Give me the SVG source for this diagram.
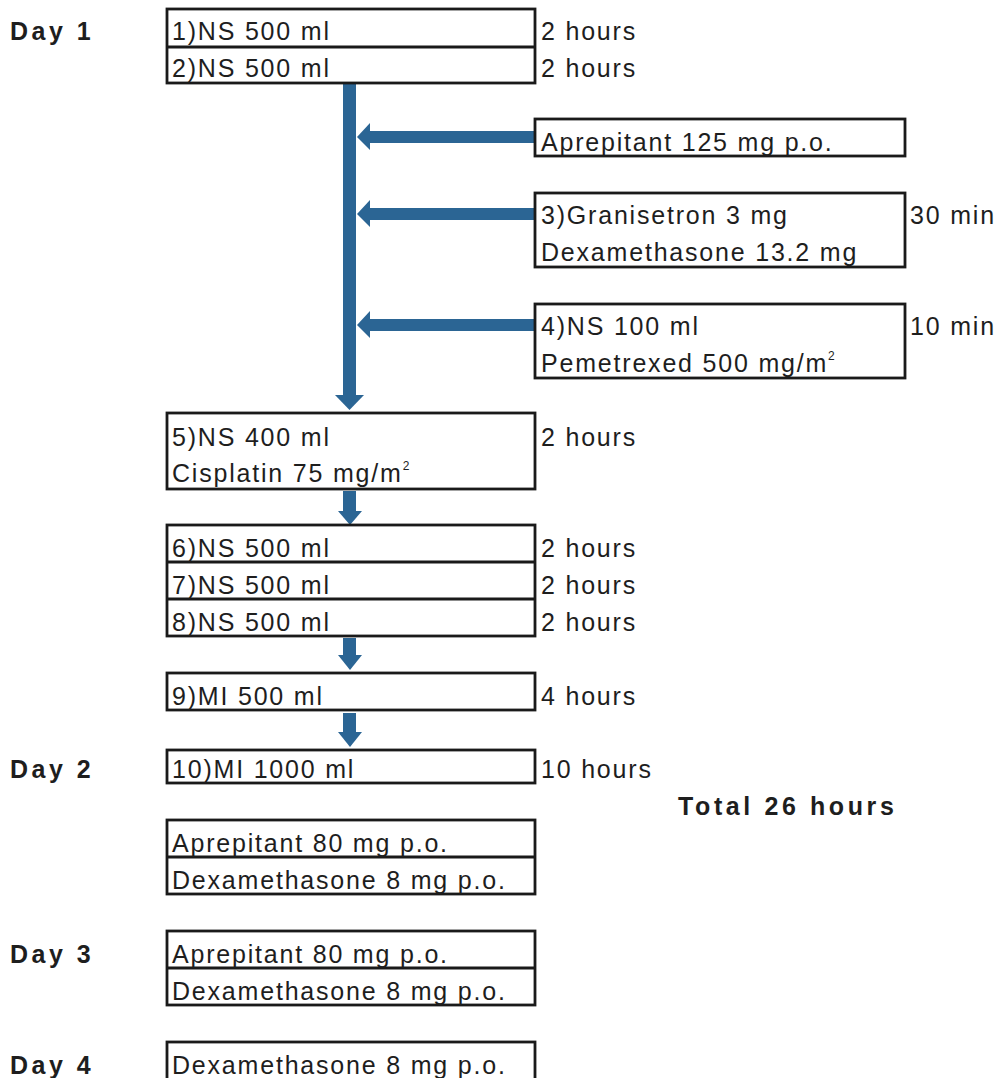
<svg xmlns="http://www.w3.org/2000/svg" width="998" height="1078" viewBox="0 0 998 1078">
<style>
.t{font-family:"Liberation Sans",Arial,sans-serif;font-size:25px;letter-spacing:1.8px;fill:#1e1e1e}
.b{font-family:"Liberation Sans",Arial,sans-serif;font-size:25px;font-weight:bold;letter-spacing:3.5px;fill:#1e1e1e}
.box{fill:#fff;stroke:#1a1a1a;stroke-width:2.8}
.sep{stroke:#1a1a1a;stroke-width:2.8}
.ar{fill:#2b6594}
</style>
<rect width="998" height="1078" fill="#fff"/>
<g id="labels">
<text class="b" x="10" y="40">Day 1</text>
<text class="b" x="10" y="778">Day 2</text>
<text class="b" x="10" y="963">Day 3</text>
<text class="b" x="10" y="1074">Day 4</text>
<text class="b" x="678" y="815" style="letter-spacing:3.6px">Total 26 hours</text>
</g>
<g id="connectors">
<rect class="ar" x="343" y="83" width="13" height="313"/>
<polygon class="ar" points="335,395 364,395 349.5,410"/>
<rect class="ar" x="369" y="131" width="167" height="12"/>
<polygon class="ar" points="370,123 370,150 357,137"/>
<rect class="ar" x="369" y="208" width="167" height="12"/>
<polygon class="ar" points="370,200 370,227 357,214"/>
<rect class="ar" x="369" y="319" width="167" height="12"/>
<polygon class="ar" points="370,311 370,338 357,325"/>
<rect class="ar" x="343" y="491" width="13" height="21"/>
<polygon class="ar" points="338,511 362,511 350,525"/>
<rect class="ar" x="343" y="638" width="13" height="18"/>
<polygon class="ar" points="338,655 362,655 350,670"/>
<rect class="ar" x="343" y="713" width="13" height="20"/>
<polygon class="ar" points="338,732 362,732 350,747"/>
</g>
<g id="n1-2">
<rect class="box" x="167" y="9" width="368" height="74"/>
<line class="sep" x1="167" y1="47" x2="535" y2="47"/>
<text class="t" x="172" y="40">1)NS 500 ml</text>
<text class="t" x="172" y="77">2)NS 500 ml</text>
<text class="t" x="541" y="40">2 hours</text>
<text class="t" x="541" y="77">2 hours</text>
</g>
<g id="aprep125">
<rect class="box" x="535" y="119" width="370" height="37"/>
<text class="t" x="541" y="151">Aprepitant 125 mg p.o.</text>
</g>
<g id="n3">
<rect class="box" x="535" y="193" width="370" height="74"/>
<text class="t" x="541" y="224">3)Granisetron 3 mg</text>
<text class="t" x="541" y="261">Dexamethasone 13.2 mg</text>
<text class="t" x="910" y="224">30 min</text>
</g>
<g id="n4">
<rect class="box" x="535" y="304" width="370" height="74"/>
<text class="t" x="541" y="335">4)NS 100 ml</text>
<text class="t" x="541" y="372">Pemetrexed 500 mg/m<tspan font-size="12" dy="-12">2</tspan></text>
<text class="t" x="910" y="335">10 min</text>
</g>
<g id="n5">
<rect class="box" x="167" y="413" width="368" height="76"/>
<text class="t" x="172" y="446">5)NS 400 ml</text>
<text class="t" x="172" y="482">Cisplatin 75 mg/m<tspan font-size="12" dy="-12">2</tspan></text>
<text class="t" x="541" y="446">2 hours</text>
</g>
<g id="n6-8">
<rect class="box" x="167" y="525" width="368" height="111"/>
<line class="sep" x1="167" y1="562" x2="535" y2="562"/>
<line class="sep" x1="167" y1="599" x2="535" y2="599"/>
<text class="t" x="172" y="557">6)NS 500 ml</text>
<text class="t" x="172" y="594">7)NS 500 ml</text>
<text class="t" x="172" y="631">8)NS 500 ml</text>
<text class="t" x="541" y="557">2 hours</text>
<text class="t" x="541" y="594">2 hours</text>
<text class="t" x="541" y="631">2 hours</text>
</g>
<g id="n9">
<rect class="box" x="167" y="673" width="368" height="37"/>
<text class="t" x="172" y="705">9)MI 500 ml</text>
<text class="t" x="541" y="705">4 hours</text>
</g>
<g id="n10">
<rect class="box" x="167" y="750" width="368" height="33"/>
<text class="t" x="172" y="778">10)MI 1000 ml</text>
<text class="t" x="541" y="778">10 hours</text>
</g>
<g id="day2">
<rect class="box" x="167" y="820" width="368" height="74"/>
<line class="sep" x1="167" y1="857" x2="535" y2="857"/>
<text class="t" x="172" y="852">Aprepitant 80 mg p.o.</text>
<text class="t" x="172" y="889">Dexamethasone 8 mg p.o.</text>
</g>
<g id="day3">
<rect class="box" x="167" y="931" width="368" height="74"/>
<line class="sep" x1="167" y1="968" x2="535" y2="968"/>
<text class="t" x="172" y="963">Aprepitant 80 mg p.o.</text>
<text class="t" x="172" y="1000">Dexamethasone 8 mg p.o.</text>
</g>
<g id="day4">
<rect class="box" x="167" y="1042" width="368" height="60"/>
<text class="t" x="172" y="1074">Dexamethasone 8 mg p.o.</text>
</g>
</svg>
